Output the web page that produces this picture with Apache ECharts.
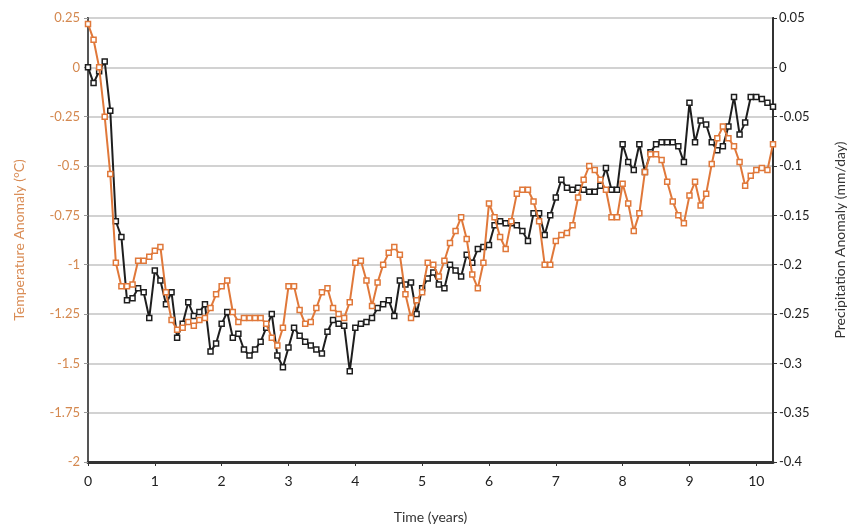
<html>
<head>
    <meta charset="UTF-8">
    <title>Temperature and precipitation anomaly</title>
    <script src="https://cdn.jsdelivr.net/npm/echarts@6/dist/echarts.min.js"></script>
    <style>
        body { margin: 0; background: #fff; }
        #chart { width: 859px; height: 532px; }
    </style>
</head>
<body>
    <div id="chart"></div>
    <script>
        // monthly samples, starting at year 0
        var monthStep = 1 / 12;

        // temperature anomaly (°C), left axis
        var tempAnomaly = [
            0.22, 0.14, 0.00, -0.25, -0.54, -0.99, -1.11, -1.11, -1.10, -0.98,
            -0.98, -0.96, -0.93, -0.91, -1.14, -1.28, -1.33, -1.32, -1.29, -1.31,
            -1.28, -1.27, -1.22, -1.15, -1.11, -1.08, -1.24, -1.29, -1.27, -1.27,
            -1.27, -1.27, -1.30, -1.37, -1.41, -1.32, -1.11, -1.11, -1.23, -1.30,
            -1.29, -1.22, -1.14, -1.12, -1.22, -1.25, -1.27, -1.19, -0.99, -0.98,
            -1.08, -1.21, -1.09, -1.00, -0.94, -0.91, -0.95, -1.15, -1.27, -1.18,
            -1.14, -0.99, -1.00, -1.06, -0.98, -0.89, -0.83, -0.76, -0.87, -1.05,
            -1.12, -0.99, -0.69, -0.76, -0.86, -0.92, -0.78, -0.64, -0.62, -0.62,
            -0.68, -0.78, -1.00, -1.00, -0.88, -0.85, -0.84, -0.80, -0.66, -0.57,
            -0.50, -0.52, -0.57, -0.62, -0.76, -0.76, -0.59, -0.69, -0.83, -0.74,
            -0.53, -0.44, -0.44, -0.47, -0.58, -0.68, -0.75, -0.79, -0.65, -0.58,
            -0.70, -0.64, -0.49, -0.36, -0.30, -0.36, -0.40, -0.48, -0.60, -0.55,
            -0.52, -0.51, -0.52, -0.39
        ];

        // precipitation anomaly (mm/day), right axis
        var precipAnomaly = [
            0, -0.016, -0.004, 0.006, -0.044, -0.156, -0.172, -0.236, -0.234, -0.224,
            -0.228, -0.254, -0.206, -0.216, -0.240, -0.228, -0.274, -0.260, -0.238, -0.252,
            -0.248, -0.240, -0.288, -0.280, -0.260, -0.248, -0.274, -0.270, -0.286, -0.292,
            -0.286, -0.278, -0.264, -0.250, -0.292, -0.304, -0.284, -0.264, -0.272, -0.278,
            -0.282, -0.286, -0.290, -0.268, -0.256, -0.260, -0.262, -0.308, -0.264, -0.260,
            -0.258, -0.254, -0.244, -0.240, -0.236, -0.252, -0.216, -0.220, -0.218, -0.250,
            -0.224, -0.214, -0.208, -0.220, -0.224, -0.200, -0.206, -0.212, -0.190, -0.198,
            -0.184, -0.182, -0.180, -0.160, -0.156, -0.158, -0.158, -0.160, -0.166, -0.176,
            -0.148, -0.148, -0.170, -0.150, -0.132, -0.114, -0.122, -0.124, -0.122, -0.124,
            -0.126, -0.126, -0.120, -0.102, -0.124, -0.124, -0.078, -0.096, -0.104, -0.078,
            -0.106, -0.086, -0.078, -0.076, -0.076, -0.076, -0.080, -0.096, -0.036, -0.076,
            -0.054, -0.058, -0.076, -0.084, -0.080, -0.060, -0.030, -0.068, -0.056, -0.030,
            -0.030, -0.032, -0.036, -0.040
        ];

        var orange = '#e0783a';
        var dark = '#1e1e1e';
        var font = 'Lato';

        function pairs(values) {
            return values.map(function (v, i) { return [i * monthStep, v]; });
        }

        function trim(v) {
            return String(Math.round(v * 1000) / 1000);
        }

        var chart = echarts.init(document.getElementById('chart'), null, { renderer: 'canvas' });

        chart.setOption({
            animation: false,
            grid: {
                left: 88, right: 86, top: 18, bottom: 70,
                show: true, borderColor: '#333', borderWidth: 2
            },
            xAxis: {
                type: 'value',
                min: 0, max: 10.25, interval: 1,
                name: 'Time (years)',
                nameLocation: 'middle',
                nameGap: 48,
                nameTextStyle: { color: '#333', fontFamily: font, fontSize: 14 },
                axisLine: { onZero: false, lineStyle: { color: '#333', width: 3 } },
                axisTick: { show: true, length: 4, lineStyle: { color: '#333' } },
                axisLabel: {
                    color: '#222', fontFamily: font, fontSize: 14, margin: 12,
                    showMaxLabel: false
                },
                splitLine: { show: false }
            },
            yAxis: [
                {
                    type: 'value',
                    min: -2, max: 0.25, interval: 0.25,
                    name: 'Temperature Anomaly (°C)',
                    nameLocation: 'middle',
                    nameGap: 62,
                    nameTextStyle: { color: '#d98c55', fontFamily: font, fontSize: 14 },
                    axisLine: { show: true, onZero: false, lineStyle: { color: '#555', width: 2 } },
                    axisTick: { show: true, length: 4, lineStyle: { color: '#999' } },
                    axisLabel: {
                        color: '#d4884f', fontFamily: font, fontSize: 13, margin: 8,
                        formatter: trim
                    },
                    splitLine: { lineStyle: { color: '#d2d2d2', width: 2 } }
                },
                {
                    type: 'value',
                    min: -0.4, max: 0.05, interval: 0.05,
                    position: 'right',
                    name: 'Precipitation Anomaly (mm/day)',
                    nameLocation: 'middle',
                    nameRotate: 90,
                    nameGap: 60,
                    nameTextStyle: { color: '#333', fontFamily: font, fontSize: 14 },
                    axisLine: { show: true, onZero: false, lineStyle: { color: '#333', width: 2 } },
                    axisTick: { show: true, length: 4, lineStyle: { color: '#333' } },
                    axisLabel: {
                        color: '#222', fontFamily: font, fontSize: 13, margin: 6,
                        formatter: trim
                    },
                    splitLine: { show: false }
                }
            ],
            series: [
                {
                    name: 'Temperature',
                    type: 'line',
                    yAxisIndex: 0,
                    data: pairs(tempAnomaly),
                    symbol: 'rect',
                    symbolSize: 5,
                    showAllSymbol: true,
                    lineStyle: { color: orange, width: 2 },
                    itemStyle: { color: '#fff', borderColor: orange, borderWidth: 1.5 },
                    z: 3
                },
                {
                    name: 'Precipitation',
                    type: 'line',
                    yAxisIndex: 1,
                    data: pairs(precipAnomaly),
                    symbol: 'rect',
                    symbolSize: 5,
                    showAllSymbol: true,
                    lineStyle: { color: dark, width: 2 },
                    itemStyle: { color: '#fff', borderColor: dark, borderWidth: 1.5 },
                    z: 2
                }
            ]
        });
    </script>
</body>
</html>
